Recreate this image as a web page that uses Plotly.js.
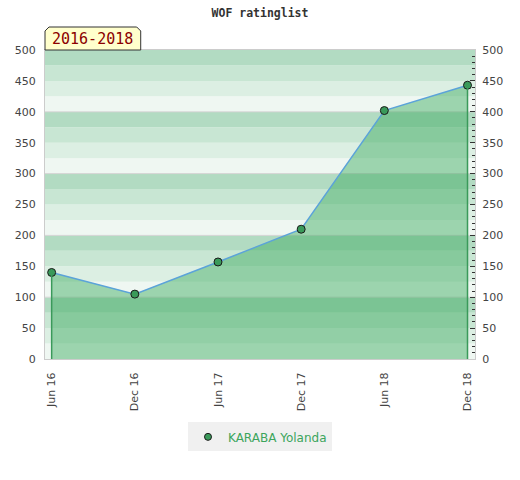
<!DOCTYPE html>
<html><head><meta charset="utf-8">
<script src="https://cdn.plot.ly/plotly-3.0.1.min.js"></script>
<style>html,body{margin:0;padding:0;background:#fff}</style>
</head><body>
<div id="chart" style="width:520px;height:480px"></div>
<script>
var periods = ['Jun 16','Dec 16','Jun 17','Dec 17','Jun 18','Dec 18'];
var ratings = [140, 105, 157, 210, 402, 443];
var seriesName = 'KARABA Yolanda';
var chartTitle = 'WOF ratinglist';
var periodLabel = '2016-2018';
var yTicks = [0,50,100,150,200,250,300,350,400,450,500];

var green = '#3a9a5a';
var main = {
  x: periods, y: ratings, type: 'scatter', mode: 'lines+markers',
  name: seriesName, fill: 'tozeroy', fillcolor: 'rgba(58,169,93,0.46)',
  line: {color: '#5ba3d9', width: 1.5}, showlegend: false,
  marker: {size: 8, color: green, line: {color: '#1a1a1a', width: 1}}
};
var legendItem = {x: [null], y: [null], type: 'scatter', mode: 'markers', name: seriesName,
  marker: {size: 7, color: green, line: {color: '#1a1a1a', width: 1}}, hoverinfo: 'skip'};
var n = periods.length;
var edgeL = {x: [periods[0], periods[0]], y: [0, ratings[0]], type: 'scatter', mode: 'lines',
  line: {color: green, width: 1.5}, showlegend: false, hoverinfo: 'skip'};
var edgeR = {x: [periods[n-1], periods[n-1]], y: [0, ratings[n-1]], type: 'scatter', mode: 'lines',
  line: {color: green, width: 1.5}, showlegend: false, hoverinfo: 'skip'};
var ghost = {x: periods, y: ratings, yaxis: 'y2', type: 'scatter', mode: 'none',
  showlegend: false, hoverinfo: 'skip'};

var bandColors = ['#eff7f2', '#dcefe3', '#c8e6d3', '#b2dbc2'];
var shapes = [];
for (var v = 0; v < 500; v += 25) {
  shapes.push({type: 'rect', xref: 'paper', yref: 'y', x0: 0, x1: 1, y0: v, y1: v + 25,
    fillcolor: bandColors[(v / 25) % 4], line: {width: 0}, layer: 'below'});
}
for (var g = 100; g < 500; g += 100) {
  shapes.push({type: 'line', xref: 'paper', yref: 'y', x0: 0, x1: 1, y0: g, y1: g,
    line: {color: '#d4d4d4', width: 1}, layer: 'below'});
}
// label box with chamfered top corners
var bx0 = 0, bx1 = 0.2226, by0 = 1.0, by1 = 1.0744, cx = 0.0093, cy = 0.0129;
shapes.push({type: 'path', xref: 'paper', yref: 'paper',
  path: 'M' + bx0 + ',' + by0 + ' L' + bx0 + ',' + (by1 - cy) + ' L' + (bx0 + cx) + ',' + by1 +
        ' L' + (bx1 - cx) + ',' + by1 + ' L' + bx1 + ',' + (by1 - cy) + ' L' + bx1 + ',' + by0 + ' Z',
  fillcolor: '#ffffcc', line: {color: '#333333', width: 1}, layer: 'above'});

var tickFont = {family: 'DejaVu Sans', size: 11, color: '#444444'};
var layout = {
  width: 520, height: 480,
  margin: {l: 45, r: 45, t: 50, b: 121, pad: 0},
  paper_bgcolor: '#ffffff', plot_bgcolor: '#ffffff',
  title: {text: chartTitle, x: 0.5, xanchor: 'center', y: 0.972, yanchor: 'middle',
    font: {family: 'DejaVu Sans Mono', size: 11.5, color: '#333333', weight: 'bold'}},
  showlegend: true,
  legend: {orientation: 'h', x: 0.5, xanchor: 'center', y: -0.252, yanchor: 'middle',
    bgcolor: '#f0f0f0', itemwidth: 30, font: {family: 'DejaVu Sans', size: 12, color: '#3ca55c'}},
  xaxis: {type: 'category', categoryorder: 'array', categoryarray: periods,
    range: [-0.08, 5.09], tickangle: -90, tickfont: tickFont, showgrid: false,
    zeroline: false, showline: true, linecolor: '#cccccc', linewidth: 1, mirror: true,
    ticks: '', ticklabelstandoff: 8},
  yaxis: {range: [0, 500], tickvals: yTicks, tickfont: tickFont, showgrid: false,
    zeroline: false, showline: true, linecolor: '#cccccc', linewidth: 1, ticks: '',
    ticklabelstandoff: 6, fixedrange: true},
  yaxis2: {range: [0, 500], tickvals: yTicks, overlaying: 'y', side: 'right', tickfont: tickFont,
    showgrid: false, zeroline: false, showline: true, linecolor: '#cccccc', linewidth: 1,
    ticks: 'inside', ticklen: 5, tickcolor: '#333333',
    minor: {dtick: 10, ticks: 'inside', ticklen: 3, tickcolor: '#333333', showgrid: false},
    ticklabelstandoff: 4},
  shapes: shapes,
  annotations: [{xref: 'paper', yref: 'paper', x: (bx0 + bx1) / 2, y: (by0 + by1) / 2,
    xanchor: 'center', yanchor: 'middle', text: periodLabel, showarrow: false,
    font: {family: 'DejaVu Sans Mono', size: 15, color: '#8b0000'}}]
};
Plotly.newPlot('chart', [main, edgeL, edgeR, ghost, legendItem], layout, {displayModeBar: false, staticPlot: true});
</script>
</body></html>
